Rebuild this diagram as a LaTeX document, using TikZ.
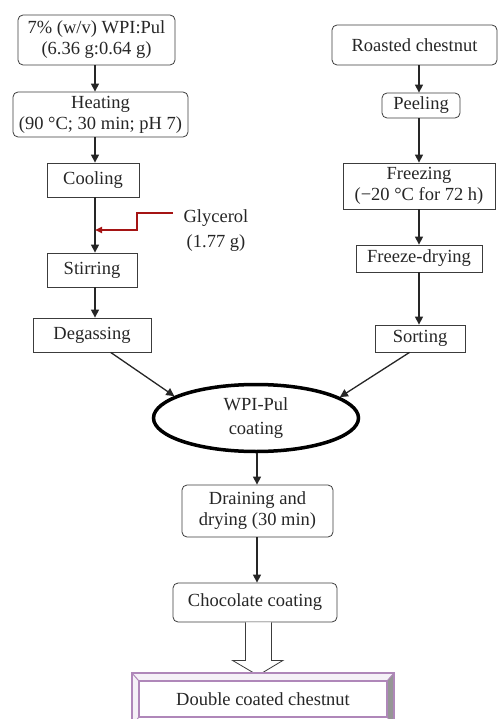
\documentclass[tikz,border=0pt]{standalone}
\usepackage{fontspec}
\setmainfont{Liberation Serif}
\usetikzlibrary{arrows.meta,shapes.geometric,calc}
\definecolor{boxline}{RGB}{60,60,60}
\definecolor{glyred}{RGB}{165,20,20}
\definecolor{purp}{RGB}{175,135,185}
\definecolor{bevelgray}{RGB}{150,150,150}
\tikzset{
  base/.style={draw=boxline, line width=0.8pt, align=center, inner sep=0pt,
    font=\fontsize{18.5}{21}\selectfont, text=black!85},
  rbox/.style={base, rounded corners=5pt},
  sbox/.style={base},
  arr/.style={draw=black!85, line width=1.3pt, -{Triangle[length=8pt,width=8pt]}},
  redarr/.style={draw=glyred, line width=1.8pt, -{Triangle[length=7pt,width=6pt]}},
}
\begin{document}
\begin{tikzpicture}[x=1pt,y=-1pt]
\useasboundingbox (0,0) rectangle (498,719);
\clip (0,0) rectangle (498,719);
% left column
\node[rbox, minimum width=157pt, minimum height=50pt] (b1) at (96.5,40) {7\% (w/v) WPI:Pul\\(6.36 g:0.64 g)};
\node[rbox, minimum width=175pt, minimum height=45pt] (b2) at (100.5,114.5) {Heating\\(90 °C; 30 min; pH 7)};
\node[sbox, minimum width=92pt, minimum height=34pt] (cool) at (93,180) {Cooling};
\node[sbox, minimum width=90pt, minimum height=34pt] (stir) at (92,270) {Stirring};
\node[sbox, minimum width=118pt, minimum height=34pt] (degas) at (92,335) {Degassing};
\coordinate (colL) at (95,0);
\draw[arr] (b1.south -| colL) -- (b2.north -| colL);
\draw[arr] (b2.south -| colL) -- (cool.north -| colL);
\draw[arr] (cool.south -| colL) -- (stir.north -| colL);
\draw[arr] (stir.south -| colL) -- (degas.north -| colL);
% glycerol
\node[font=\fontsize{18.5}{25}\selectfont, align=center, inner sep=0pt, text=black!85] (gly) at (216,231) {Glycerol\\(1.77 g)};
\coordinate (g0) at (173,213);
\coordinate (g1) at (137,213);
\coordinate (g2) at (137,230);
\draw[redarr] (g0) -- (g1) -- (g2) -- (g2 -| colL);
% right column
\node[rbox, minimum width=165pt, minimum height=40pt] (roast) at (414.5,45) {Roasted chestnut};
\node[rbox, minimum width=78pt, minimum height=25pt] (peel) at (421,105.5) {Peeling};
\node[sbox, minimum width=152pt, minimum height=46pt] (freez) at (419,186) {Freezing\\(−20 °C for 72 h)};
\node[sbox, minimum width=126pt, minimum height=27pt] (fdry) at (419,258.5) {Freeze-drying};
\node[sbox, minimum width=90pt, minimum height=27pt] (sort) at (420,338.5) {Sorting};
\coordinate (colR) at (419,0);
\draw[arr] (roast.south -| colR) -- (peel.north -| colR);
\draw[arr] (peel.south -| colR) -- (freez.north -| colR);
\draw[arr] (freez.south -| colR) -- (fdry.north -| colR);
\draw[arr] (fdry.south -| colR) -- (sort.north -| colR);
% center
\node[ellipse, draw=black, line width=3.5pt, minimum width=205pt, minimum height=67pt, inner sep=0pt,
  align=center, font=\fontsize{18.5}{24}\selectfont, text=black!85] (ell) at (256,418) {WPI-Pul\\coating};
\draw[arr] (degas.-43) -- (ell.165);
\draw[arr] (sort.-127) -- (ell.14);
\node[rbox, minimum width=151pt, minimum height=52pt] (drain) at (257.5,511) {Draining and\\drying (30 min)};
\node[rbox, minimum width=164pt, minimum height=39pt] (choc) at (255,602.5) {Chocolate coating};
\coordinate (colC) at (257,0);
\draw[arr] (ell.south -| colC) -- (drain.north -| colC);
\draw[arr] (drain.south -| colC) -- (choc.north -| colC);
% hollow arrow
\draw[draw=boxline, line width=0.8pt, fill=white]
  ($(choc.south)+(-9.5,0)$) -- ($(choc.south)+(-9.5,38)$) -- ($(choc.south)+(-22.5,38)$)
  -- ($(choc.south)+(3,53)$) -- ($(choc.south)+(28,38)$) -- ($(choc.south)+(16.5,38)$)
  -- ($(choc.south)+(16.5,0)$);
% final bevel box
\coordinate (o1) at (132,673);
\coordinate (o2) at (394,673);
\coordinate (o3) at (394,727);
\coordinate (o4) at (132,727);
\fill[purp!12] (o1) -- (o2) -- (387,681) -- (139,681) -- cycle;
\fill[purp!12] (o1) -- (139,681) -- (139,717) -- (o4) -- cycle;
\fill[bevelgray] (o2) -- (o3) -- (387,717) -- (387,681) -- cycle;
\node[draw=purp, line width=1.2pt, minimum width=248pt, minimum height=36pt, inner sep=0pt,
  font=\fontsize{18.5}{21}\selectfont, text=black!85] (dbl) at (263,699) {Double coated chestnut};
\draw[purp, line width=1.2pt] (o1) -- (o2) -- (o3) -- (o4) -- cycle;
\draw[purp, line width=1pt] (o1) -- (dbl.north west) (o2) -- (dbl.north east) (o3) -- (dbl.south east) (o4) -- (dbl.south west);
\end{tikzpicture}
\end{document}
